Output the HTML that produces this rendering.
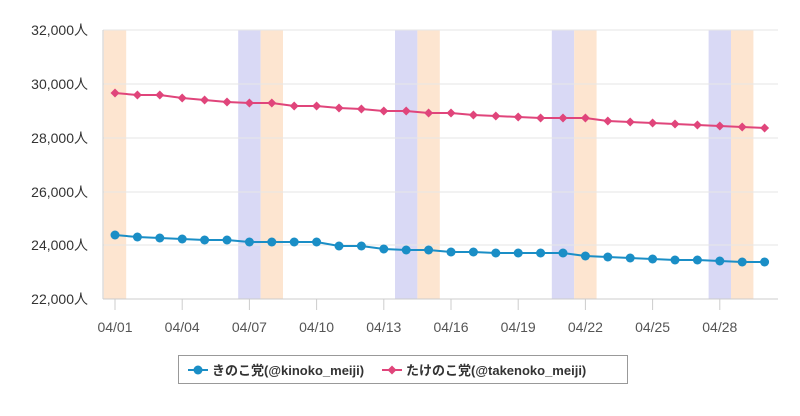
<!DOCTYPE html><html><head><meta charset="utf-8"><style>body{margin:0;background:#fff;width:800px;height:411px;overflow:hidden}svg{font-family:"Liberation Sans","Noto Sans CJK JP",sans-serif}</style></head><body>
<svg id="s" width="800" height="411" xmlns="http://www.w3.org/2000/svg"></svg>
<script>
const s=document.getElementById('s');let h='';
const X=i=>115+i*22.4;
[[0,'#fde5d0'],[6,'#d9d9f5'],[7,'#fde5d0'],[13,'#d9d9f5'],[14,'#fde5d0'],[20,'#d9d9f5'],[21,'#fde5d0'],[27,'#d9d9f5'],[28,'#fde5d0']].forEach(([i,c])=>h+=`<rect x="${X(i)-11.2}" y="30" width="22.4" height="269" fill="${c}"/>`);
const ys=[30,84,138,192,245,299],labs=['32,000人','30,000人','28,000人','26,000人','24,000人','22,000人'];
ys.forEach((y,k)=>{h+=`<line x1="103" x2="778" y1="${y}" y2="${y}" stroke="#e6e6e6"/>`;h+=`<text x="88" y="${y+5}" text-anchor="end" font-size="14" fill="#333">${labs[k]}</text>`});
h+=`<line x1="103" x2="103" y1="30" y2="299" stroke="#ccc"/><line x1="103" x2="778" y1="299" y2="299" stroke="#ccc"/>`;
for(let i=0;i<30;i+=3){h+=`<line x1="${X(i)}" x2="${X(i)}" y1="299" y2="310" stroke="#ccc"/><text x="${X(i)}" y="332" text-anchor="middle" font-size="14" fill="#555">04/${String(i+1).padStart(2,'0')}</text>`}
const t=[93,95,95,98,100,102,103,103,106,106,108,109,111,111,113,113,115,116,117,118,118,118,121,122,123,124,125,126,127,128];
const k=[235,237,238,239,240,240,242,242,242,242,246,246,249,250,250,252,252,253,253,253,253,256,257,258,259,260,260,261,262,262];
h+=`<polyline points="${k.map((y,i)=>X(i)+','+y).join(' ')}" fill="none" stroke="#1a8ec6" stroke-width="2"/>`;
k.forEach((y,i)=>h+=`<circle cx="${X(i)}" cy="${y}" r="4.5" fill="#1a8ec6"/>`);
h+=`<polyline points="${t.map((y,i)=>X(i)+','+y).join(' ')}" fill="none" stroke="#e0457b" stroke-width="2"/>`;
t.forEach((y,i)=>{const x=X(i);h+=`<polygon points="${x},${y-4.5} ${x+4.5},${y} ${x},${y+4.5} ${x-4.5},${y}" fill="#e0457b"/>`});
h+=`<rect x="178.5" y="355.5" width="449" height="28" fill="#fff" stroke="#999"/>`;
h+=`<line x1="188" x2="208" y1="370" y2="370" stroke="#1a8ec6" stroke-width="2"/><circle cx="198" cy="370" r="4.5" fill="#1a8ec6"/><text x="212" y="375" font-size="13" font-weight="bold" fill="#333">きのこ党(@kinoko_meiji)</text>`;
h+=`<line x1="382" x2="402" y1="370" y2="370" stroke="#e0457b" stroke-width="2"/><polygon points="392,365.5 396.5,370 392,374.5 387.5,370" fill="#e0457b"/><text x="406" y="375" font-size="13" font-weight="bold" fill="#333">たけのこ党(@takenoko_meiji)</text>`;
s.innerHTML=h;
</script></body></html>
